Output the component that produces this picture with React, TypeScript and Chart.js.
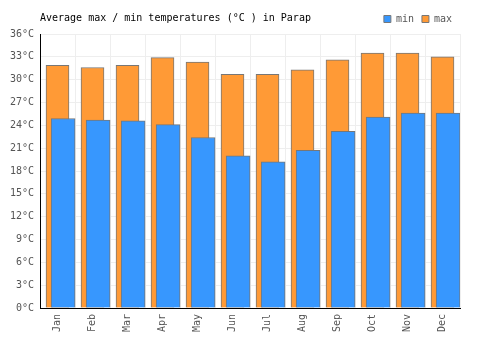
import React, { useEffect, useRef } from "react";
import { Chart, registerables } from "chart.js";

Chart.register(...registerables);

const months = ["Jan", "Feb", "Mar", "Apr", "May", "Jun", "Jul", "Aug", "Sep", "Oct", "Nov", "Dec"];
const minTemps = [24.9, 24.7, 24.6, 24.1, 22.4, 20.0, 19.2, 20.7, 23.2, 25.1, 25.6, 25.6];
const maxTemps = [31.9, 31.6, 31.9, 32.9, 32.3, 30.7, 30.7, 31.3, 32.6, 33.5, 33.5, 33.0];
const titleText = "Average max / min temperatures (°C ) in Parap";
const FONT = "'DejaVu Sans Mono', monospace";
const MIN_SHIFT = 0.16;

export default function App() {
  const ref = useRef<HTMLCanvasElement | null>(null);
  useEffect(() => {
    document.body.style.margin = "0";
    const titlePlugin = {
      id: "sideTitle",
      afterDraw(chart: any) {
        const ctx = chart.ctx;
        ctx.save();
        ctx.font = `10px ${FONT}`;
        ctx.fillStyle = "#000";
        ctx.textBaseline = "middle";
        ctx.textAlign = "left";
        ctx.fillText(titleText, 40, 18);
        ctx.restore();
      },
    };
    const chart = new Chart(ref.current as HTMLCanvasElement, {
      type: "bar",
      data: {
        labels: months,
        datasets: [
          {
            label: "min",
            data: minTemps.map((v, i) => ({ x: i + MIN_SHIFT, y: v })) as any,
            backgroundColor: "#3797fe",
            borderColor: "#777",
            borderWidth: 1,
            barThickness: 24,
            grouped: false,
            xAxisID: "x2",
          },
          {
            label: "max",
            data: maxTemps,
            backgroundColor: "#ff9a36",
            borderColor: "#777",
            borderWidth: 1,
            barThickness: 23,
            grouped: false,
            xAxisID: "x",
          },
        ],
      },
      options: {
        animation: false,
        responsive: false,
        layout: { padding: { top: 6, right: 40, left: 0, bottom: 0 } },
        plugins: {
          title: { display: false },
          tooltip: { enabled: false },
          legend: {
            position: "top",
            align: "end",
            labels: {
              boxWidth: 7,
              boxHeight: 7,
              padding: 8,
              color: "#555",
              font: { family: FONT, size: 10 },
            },
          },
        },
        scales: {
          x: {
            type: "category",
            offset: true,
            grid: { color: "#eeeeee", offset: true, drawTicks: false },
            border: { color: "#000", width: 1 },
            ticks: {
              color: "#555",
              font: { family: FONT, size: 10 },
              maxRotation: 90,
              minRotation: 90,
              padding: 6,
            },
            afterFit(scale: any) {
              scale.height = 42;
            },
          },
          x2: {
            type: "linear",
            display: false,
            offset: false,
            min: -0.5,
            max: 11.5,
          },
          y: {
            min: 0,
            max: 36,
            grid: { color: "#eeeeee", drawTicks: false },
            border: { color: "#000", width: 1 },
            ticks: {
              stepSize: 3,
              color: "#555",
              font: { family: FONT, size: 10 },
              padding: 6,
              callback: (v: any) => `${v}°C`,
            },
            afterFit(scale: any) {
              scale.width = 40;
            },
          },
        },
      },
      plugins: [titlePlugin],
    });
    return () => chart.destroy();
  }, []);
  return <canvas ref={ref} width={500} height={350} />;
}
